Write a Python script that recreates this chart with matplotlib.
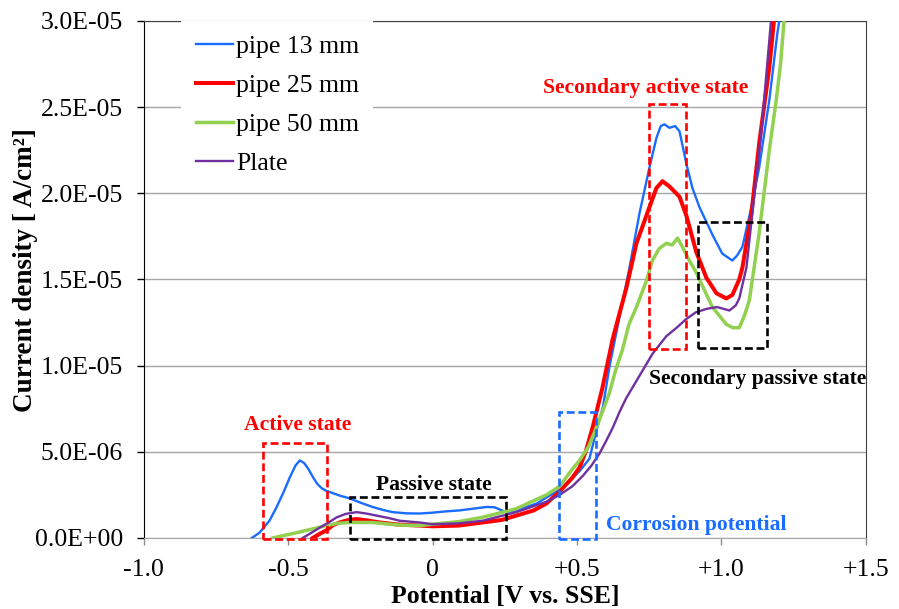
import matplotlib
matplotlib.use("Agg")
import matplotlib.pyplot as plt
import numpy as np
from matplotlib.patches import Rectangle
from matplotlib.ticker import FixedLocator, FuncFormatter

plt.rcParams["font.family"] = ["Liberation Serif", "DejaVu Serif"]

# potential [V vs. SSE] and current density [uA/cm2]
v_13 = [-0.626, -0.60, -0.565, -0.54, -0.515, -0.495, -0.475, -0.46, -0.445, -0.43,
        -0.415, -0.40, -0.385, -0.37, -0.345, -0.32, -0.287, -0.25, -0.208, -0.17,
        -0.138, -0.09, -0.045, 0.0, 0.05, 0.093, 0.14, 0.187, 0.215, 0.24,
        0.256, 0.29, 0.325, 0.36, 0.394, 0.42, 0.445, 0.475, 0.51, 0.543,
        0.567, 0.59, 0.612, 0.647, 0.682, 0.716, 0.751, 0.775, 0.79, 0.803,
        0.82, 0.84, 0.855, 0.879, 0.90, 0.924, 0.969, 1.003, 1.038, 1.055,
        1.073, 1.104, 1.131, 1.166, 1.194, 1.21]
i_13 = [0.0, 0.3, 1.0, 1.8, 2.7, 3.5, 4.2, 4.5, 4.35, 4.0,
        3.55, 3.15, 2.9, 2.75, 2.6, 2.45, 2.3, 2.05, 1.8, 1.62,
        1.5, 1.43, 1.42, 1.47, 1.55, 1.6, 1.7, 1.8, 1.78, 1.6,
        1.5, 1.6, 1.8, 2.0, 2.35, 2.6, 2.85, 3.3, 3.9, 4.6,
        6.2, 7.6, 9.9, 12.8, 15.7, 18.8, 21.5, 23.2, 23.9, 24.0,
        23.8, 23.9, 23.6, 21.7, 20.3, 19.2, 17.6, 16.5, 16.1, 16.4,
        16.9, 19.2, 21.5, 25.4, 29.3, 31.0]

v_25 = [-0.415, -0.39, -0.367, -0.345, -0.322, -0.29, -0.263, -0.22, -0.183, -0.12,
        -0.045, 0.0, 0.09, 0.173, 0.24, 0.29, 0.35, 0.394, 0.44, 0.484,
        0.509, 0.53, 0.554, 0.588, 0.623, 0.65, 0.671, 0.706, 0.751, 0.775,
        0.796, 0.82, 0.855, 0.879, 0.913, 0.948, 0.983, 1.017, 1.038, 1.062,
        1.073, 1.104, 1.131, 1.166, 1.185]
i_25 = [0.0, 0.25, 0.45, 0.75, 0.9, 1.05, 1.1, 1.0, 0.9, 0.78,
        0.72, 0.68, 0.72, 0.9, 1.05, 1.3, 1.6, 2.0, 2.7, 3.5,
        4.1, 5.0, 6.4, 8.7, 11.5, 13.2, 14.5, 17.1, 19.2, 20.3,
        20.7, 20.4, 19.8, 18.7, 16.6, 15.1, 14.2, 13.9, 14.1, 15.0,
        15.7, 18.8, 22.9, 27.3, 30.5]

v_50 = [-0.554, -0.5, -0.46, -0.41, -0.367, -0.33, -0.287, -0.208, -0.114, -0.045,
        0.0, 0.09, 0.173, 0.29, 0.394, 0.44, 0.484, 0.509, 0.54, 0.567,
        0.59, 0.612, 0.635, 0.657, 0.68, 0.706, 0.74, 0.761, 0.785, 0.81,
        0.83, 0.848, 0.865, 0.889, 0.913, 0.924, 0.969, 1.017, 1.04, 1.062,
        1.08, 1.097, 1.131, 1.166, 1.19, 1.205, 1.218]
i_50 = [0.0, 0.2, 0.35, 0.55, 0.72, 0.85, 0.9, 0.9, 0.75, 0.72,
        0.8, 0.95, 1.2, 1.7, 2.5, 3.0, 4.0, 4.5, 5.3, 6.4,
        7.4, 8.4, 9.8, 10.9, 12.4, 13.4, 14.9, 16.1, 16.8, 17.1,
        17.0, 17.4, 16.9, 16.1, 15.4, 15.0, 13.4, 12.4, 12.2, 12.2,
        12.9, 13.8, 17.7, 22.5, 25.4, 27.5, 30.2]

v_plate = [-0.45, -0.42, -0.391, -0.36, -0.332, -0.30, -0.263, -0.23, -0.194, -0.15,
           -0.114, -0.045, 0.0, 0.09, 0.173, 0.29, 0.394, 0.44, 0.484, 0.52,
           0.55, 0.578, 0.60, 0.624, 0.647, 0.67, 0.716, 0.762, 0.809, 0.845,
           0.878, 0.912, 0.95, 0.985, 1.028, 1.05, 1.062, 1.087, 1.107, 1.138,
           1.173]
i_plate = [0.0, 0.3, 0.6, 0.9, 1.2, 1.4, 1.5, 1.42, 1.3, 1.15,
           1.0, 0.9, 0.8, 0.85, 1.0, 1.5, 2.1, 2.5, 3.0, 3.6,
           4.2, 4.9, 5.6, 6.4, 7.3, 8.1, 9.4, 10.7, 11.7, 12.2,
           12.7, 13.1, 13.3, 13.4, 13.2, 13.5, 13.9, 15.7, 18.8, 23.5,
           30.2]

series = [
    ("pipe 13 mm", v_13, i_13, "#1a6cff", 1.7),
    ("pipe 25 mm", v_25, i_25, "#ff0000", 2.9),
    ("pipe 50 mm", v_50, i_50, "#92d050", 2.5),
    ("Plate", v_plate, i_plate, "#7030a0", 1.7),
]

x_ticks = [-1.0, -0.5, 0.0, 0.5, 1.0, 1.5]
x_labels = ["-1.0", "-0.5", "0", "+0.5", "+1.0", "+1.5"]
y_ticks = [0.0, 5e-6, 1e-5, 1.5e-5, 2e-5, 2.5e-5, 3e-5]

# (label, x0, x1, y0, y1, colour) in V and A/cm2
boxes = [
    ("Active state", -0.587, -0.364, -0.08e-6, 5.5e-6, "#ff0000"),
    ("Passive state", -0.285, 0.255, -0.08e-6, 2.4e-6, "black"),
    ("Corrosion potential", 0.437, 0.566, -0.08e-6, 7.33e-6, "#1a6cff"),
    ("Secondary active state", 0.751, 0.878, 10.95e-6, 25.2e-6, "#ff0000"),
    ("Secondary passive state", 0.918, 1.158, 11.04e-6, 18.35e-6, "black"),
]

fig = plt.figure(figsize=(8.99, 6.09), dpi=100)
ax = fig.add_axes([0.160, 0.1166, 0.803, 0.849])

for label, v, i, color, lw in series:
    ax.plot(v, np.array(i) * 1e-6, color=color, lw=lw, label=label, zorder=3)

for _, x0, x1, y0, y1, color in boxes:
    ax.add_patch(Rectangle((x0, y0), x1 - x0, y1 - y0, fill=False, ec=color,
                           lw=1.9, ls=(0, (3, 1.4)), clip_on=False, zorder=4))

bold = dict(fontsize=15.6, fontweight="bold")
ax.text(-0.469, 6.55e-6, "Active state", color="#ff0000", ha="center", va="center", **bold)
ax.text(0.005, 3.05e-6, "Passive state", color="black", ha="center", va="center", **bold)
ax.text(0.601, 0.73e-6, "Corrosion potential", color="#1a6cff", ha="left", va="center", **bold)
t = ax.text(0.381, 26.1e-6, "Secondary active state", color="#ff0000", ha="left", va="center", **bold)
t.set_clip_path(Rectangle((-1.0, 0.0), 2.085, 3e-5, transform=ax.transData))
ax.text(0.751, 9.23e-6, "Secondary passive state", color="black", ha="left", va="center",
        clip_on=True, **bold)

ax.set_xlim(-1.0, 1.5)
ax.set_ylim(0, 3e-5)
ax.xaxis.set_major_locator(FixedLocator(x_ticks))
ax.set_xticklabels(x_labels)
ax.yaxis.set_major_locator(FixedLocator(y_ticks))
ax.yaxis.set_major_formatter(FuncFormatter(lambda y, _: f"{y:.1E}"))
ax.tick_params(axis="both", labelsize=18.5, direction="out", length=5, width=1)
ax.tick_params(axis="x", colors="#8c8c8c", labelcolor="black", pad=10)
ax.tick_params(axis="y", pad=10)

ax.grid(axis="y", color="#a6a6a6", lw=1.0)
ax.set_axisbelow(True)
ax.spines["bottom"].set_color("#a6a6a6")
ax.spines["top"].set_color("#404040")
ax.spines["right"].set_color("#404040")
ax.spines["left"].set_color("black")

ax.set_xlabel("Potential [V vs. SSE]", fontsize=18.5, fontweight="bold", labelpad=3)
ax.set_ylabel("Current density [ A/cm²]", fontsize=19.5, fontweight="bold")
ax.yaxis.set_label_coords(-0.147, 0.518)

leg = ax.legend(loc="upper left", bbox_to_anchor=(0.052, 1.0), borderaxespad=0.0,
                fontsize=18.5, frameon=True, fancybox=False, edgecolor="none",
                facecolor="white", framealpha=1.0, handlelength=1.45,
                handletextpad=0.12, labelspacing=0.62, borderpad=0.55)

fig.savefig("out.png", dpi=100)
